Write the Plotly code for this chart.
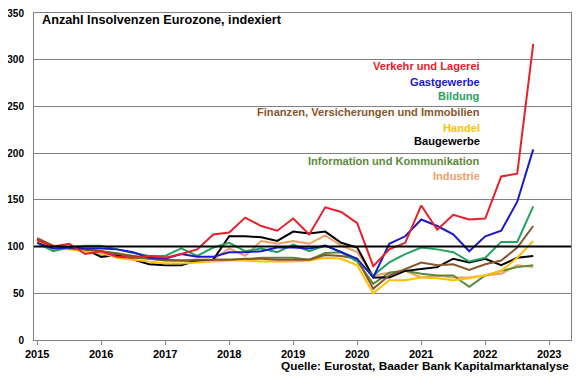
import plotly.graph_objects as go

# quarterly observations 2015Q1 .. 2022Q4
years = list(range(2015, 2023))
quarters = [1, 2, 3, 4]
periods = [y + (q - 1) / 4 for y in years for q in quarters]

verkehr = [107, 100, 103, 92, 95, 89, 88, 90, 88, 92, 97, 113, 115, 131, 122, 117,
           130, 113, 142, 137, 125, 79, 97, 104, 144, 118, 134, 129, 130, 175, 178, 317]
gastgewerbe = [104, 98, 99, 98, 98, 97, 94, 88, 87, 92, 89, 89, 94, 94, 95, 99,
               99, 98, 101, 94, 87, 67, 103, 111, 129, 122, 113, 95, 111, 117, 148, 204]
bildung = [104, 95, 99, 101, 101, 97, 93, 90, 90, 98, 90, 99, 104, 95, 98, 94,
           102, 95, 101, 94, 85, 69, 83, 92, 99, 97, 94, 84, 88, 105, 105, 143]
finanzen = [109, 101, 98, 97, 95, 92, 90, 88, 86, 85, 86, 86, 86, 87, 87, 86,
            86, 86, 91, 90, 87, 55, 69, 76, 83, 80, 81, 75, 81, 85, 99, 122]
handel = [105, 100, 97, 95, 93, 88, 86, 84, 82, 82, 83, 84, 85, 85, 84, 84,
          84, 85, 88, 87, 80, 50, 64, 64, 67, 66, 64, 66, 69, 74, 88, 106]
baugewerbe = [108, 100, 99, 97, 89, 91, 86, 81, 80, 80, 85, 86, 111, 111, 110, 106,
              116, 114, 116, 104, 99, 67, 67, 74, 76, 78, 87, 83, 87, 80, 88, 90]
information = [105, 99, 99, 96, 95, 93, 88, 87, 85, 85, 84, 86, 86, 86, 88, 88,
               88, 86, 93, 94, 84, 60, 72, 74, 71, 69, 69, 57, 69, 74, 78, 80]
industrie = [105, 98, 98, 95, 92, 93, 90, 87, 85, 85, 84, 86, 98, 90, 106, 103,
             106, 103, 112, 101, 94, 69, 72, 74, 67, 69, 67, 67, 69, 71, 80, 78]

labels = ["Verkehr und Lagerei", "Gastgewerbe", "Bildung",
          "Finanzen, Versicherungen und Immobilien", "Handel", "Baugewerbe",
          "Information und Kommunikation", "Industrie"]
series = [verkehr, gastgewerbe, bildung, finanzen, handel, baugewerbe, information, industrie]
colors = ["#E8202A", "#1A1AC8", "#22A35E", "#87552B", "#FFC000", "#000000", "#5B8A3A", "#F0A066"]
label_y = [0.838, 0.790, 0.747, 0.697, 0.649, 0.609, 0.548, 0.502]

x_ticks = list(range(2015, 2024))
y_ticks = list(range(0, 351, 50))
title = "Anzahl Insolvenzen Eurozone, indexiert"
source = "Quelle: Eurostat, Baader Bank Kapitalmarktanalyse"

FONT = "Liberation Sans, Arial, sans-serif"

fig = go.Figure()
# draw in reverse so the first series (red) is on top
for name, vals, col in reversed(list(zip(labels, series, colors))):
    fig.add_trace(go.Scatter(x=periods, y=vals, mode="lines", name=name,
                             line=dict(color=col, width=2), showlegend=False))

fig.add_shape(type="line", xref="paper", x0=0, x1=1, yref="y", y0=100, y1=100,
              line=dict(color="black", width=2), layer="above")

for name, col, ly in zip(labels, colors, label_y):
    fig.add_annotation(text=f"<b>{name}</b>", xref="paper", yref="paper",
                       x=0.834, y=ly, xanchor="right", yanchor="middle", showarrow=False,
                       font=dict(family=FONT, size=11.1, color=col))

fig.add_annotation(text=f"<b>{title}</b>", xref="paper", yref="paper", x=0.011, y=0.979,
                   xanchor="left", yanchor="middle", showarrow=False,
                   font=dict(family=FONT, size=12.7, color="black"))
fig.add_annotation(text=f"<b>{source}</b>", xref="paper", yref="paper", x=1.0, y=-0.0795,
                   xanchor="right", yanchor="middle", showarrow=False,
                   font=dict(family=FONT, size=11.8, color="black"))

# the page body adds an 8px offset, so the figure is 8px smaller than the window
fig.update_layout(
    width=572, height=368,
    margin=dict(l=26, r=9, t=5, b=36, autoexpand=False),
    paper_bgcolor="white", plot_bgcolor="white",
    font=dict(family=FONT, size=11, color="black"),
)
fig.update_xaxes(range=[2014.95, 2023.34], tickvals=x_ticks, automargin=False,
                 ticktext=[f"<b>{t}</b>" for t in x_ticks],
                 showgrid=False, zeroline=False, showline=True, linecolor="#808080",
                 linewidth=1, mirror=True, ticks="outside", ticklen=4, tickcolor="#808080")
fig.update_yaxes(range=[0, 350], tickvals=y_ticks, automargin=False,
                 ticktext=[f"<b>{t}</b>" for t in y_ticks],
                 tickfont=dict(size=10), ticklabeloverflow="allow",
                 showgrid=True, gridcolor="#808080", gridwidth=1, zeroline=False,
                 showline=True, linecolor="#808080", linewidth=1, mirror=True,
                 ticks="", ticklabelstandoff=7)

fig.write_html("out.html")
